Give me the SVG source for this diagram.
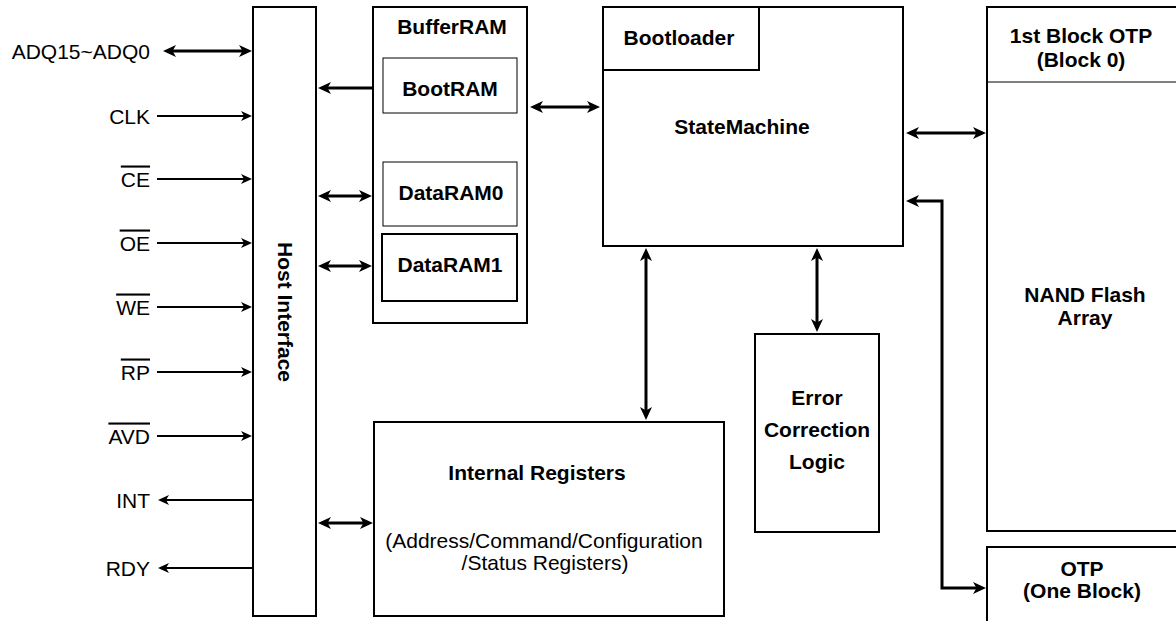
<svg xmlns="http://www.w3.org/2000/svg" width="1176" height="621" viewBox="0 0 1176 621">
<style>
text{font-family:"Liberation Sans",Arial,sans-serif;font-size:21px;fill:#000}
.b{font-weight:bold}
.m{text-anchor:middle}
.e{text-anchor:end}
.ov{text-decoration:overline}
.box{fill:#fff;stroke:#000;stroke-width:2}
.thin{fill:#fff;stroke:#000;stroke-width:1}
.w{fill:none;stroke:#000;stroke-width:3}
.s{fill:none;stroke:#000;stroke-width:2}
</style>
<defs>
<marker id="ah" viewBox="0 0 13 12" markerUnits="userSpaceOnUse" markerWidth="13" markerHeight="12" refX="4" refY="6" orient="auto-start-reverse"><path d="M0,0 L13,6 L0,12 L3.5,6 Z" fill="#000"/></marker>
<marker id="as" viewBox="0 0 11 10" markerUnits="userSpaceOnUse" markerWidth="11" markerHeight="10" refX="4" refY="5" orient="auto-start-reverse"><path d="M0,0 L11,5 L0,10 L3,5 Z" fill="#000"/></marker>
</defs>
<rect width="1176" height="621" fill="#fff"/>

<g id="host-interface">
<rect class="box" x="253" y="7" width="63" height="609"/>
<text class="b m" transform="translate(285,312) rotate(90)" dominant-baseline="central">Host Interface</text>
</g>

<g id="bufferram">
<rect class="box" x="373" y="7" width="154" height="316"/>
<text class="b m" x="452" y="34">BufferRAM</text>
</g>
<g id="bootram">
<rect class="thin" x="383" y="58" width="134" height="55"/>
<text class="b m" x="450" y="96">BootRAM</text>
</g>
<g id="dataram0">
<rect class="thin" x="383" y="162" width="134" height="64"/>
<text class="b m" x="451" y="200">DataRAM0</text>
</g>
<g id="dataram1">
<rect class="box" x="382" y="234" width="135" height="67"/>
<text class="b m" x="450" y="272">DataRAM1</text>
</g>

<g id="statemachine">
<rect class="box" x="603" y="7" width="300" height="239"/>
<text class="b m" x="742" y="134">StateMachine</text>
</g>
<g id="bootloader">
<rect class="box" x="603" y="7" width="156" height="63"/>
<text class="b m" x="679" y="45">Bootloader</text>
</g>

<g id="nand-flash">
<rect class="box" x="987" y="7" width="250" height="524"/>
<line x1="987" y1="82" x2="1176" y2="82" stroke="#000" stroke-width="1"/>
<text class="b m" x="1081" y="43">1st Block OTP</text>
<text class="b m" x="1081" y="67">(Block 0)</text>
<text class="b m" x="1085" y="302">NAND Flash</text>
<text class="b m" x="1085" y="325">Array</text>
</g>

<g id="otp">
<rect class="box" x="987" y="547" width="250" height="100"/>
<text class="b m" x="1082" y="576">OTP</text>
<text class="b m" x="1082" y="598">(One Block)</text>
</g>

<g id="ecl">
<rect class="box" x="755" y="334" width="124" height="198"/>
<text class="b m" x="817" y="405">Error</text>
<text class="b m" x="817" y="437">Correction</text>
<text class="b m" x="817" y="469">Logic</text>
</g>

<g id="internal-registers">
<rect class="box" x="374" y="422" width="350" height="194"/>
<text class="b m" x="537" y="480">Internal Registers</text>
<text class="m" x="544" y="548">(Address/Command/Configuration</text>
<text class="m" x="545" y="570">/Status Registers)</text>
</g>

<g id="signals">
<text class="e" x="150" y="58.5">ADQ15~ADQ0</text>
<text class="e" x="150" y="123.5">CLK</text>
<text class="e ov" x="150" y="186.5">CE</text>
<text class="e ov" x="150" y="250.5">OE</text>
<text class="e ov" x="150" y="314.5">WE</text>
<text class="e ov" x="150" y="379.5">RP</text>
<text class="e ov" x="150" y="443.5">AVD</text>
<text class="e" x="150" y="507.5">INT</text>
<text class="e" x="150" y="575.5">RDY</text>
</g>

<g id="connectors">
<line class="w" x1="172" y1="51" x2="243" y2="51" marker-start="url(#ah)" marker-end="url(#ah)"/>
<line class="s" x1="157" y1="116" x2="245" y2="116" marker-end="url(#as)"/>
<line class="s" x1="157" y1="179" x2="245" y2="179" marker-end="url(#as)"/>
<line class="s" x1="157" y1="243" x2="245" y2="243" marker-end="url(#as)"/>
<line class="s" x1="157" y1="307" x2="245" y2="307" marker-end="url(#as)"/>
<line class="s" x1="157" y1="372" x2="245" y2="372" marker-end="url(#as)"/>
<line class="s" x1="157" y1="436" x2="245" y2="436" marker-end="url(#as)"/>
<line class="s" x1="253" y1="500" x2="165" y2="500" marker-end="url(#as)"/>
<line class="s" x1="253" y1="568" x2="165" y2="568" marker-end="url(#as)"/>

<line class="w" x1="373" y1="88" x2="327" y2="88" marker-end="url(#ah)"/>
<line class="w" x1="327" y1="196" x2="363" y2="196" marker-start="url(#ah)" marker-end="url(#ah)"/>
<line class="w" x1="327" y1="266" x2="363" y2="266" marker-start="url(#ah)" marker-end="url(#ah)"/>
<line class="w" x1="327" y1="523" x2="364" y2="523" marker-start="url(#ah)" marker-end="url(#ah)"/>
<line class="w" x1="539" y1="107" x2="591" y2="107" marker-start="url(#ah)" marker-end="url(#ah)"/>
<line class="w" x1="915" y1="133" x2="977" y2="133" marker-start="url(#ah)" marker-end="url(#ah)"/>
<line class="w" x1="646" y1="257" x2="646" y2="411" marker-start="url(#ah)" marker-end="url(#ah)"/>
<line class="w" x1="817" y1="257" x2="817" y2="323" marker-start="url(#ah)" marker-end="url(#ah)"/>
<path class="w" d="M915,201 L942,201 L942,588 L977,588" marker-start="url(#ah)" marker-end="url(#ah)"/>
</g>
</svg>
